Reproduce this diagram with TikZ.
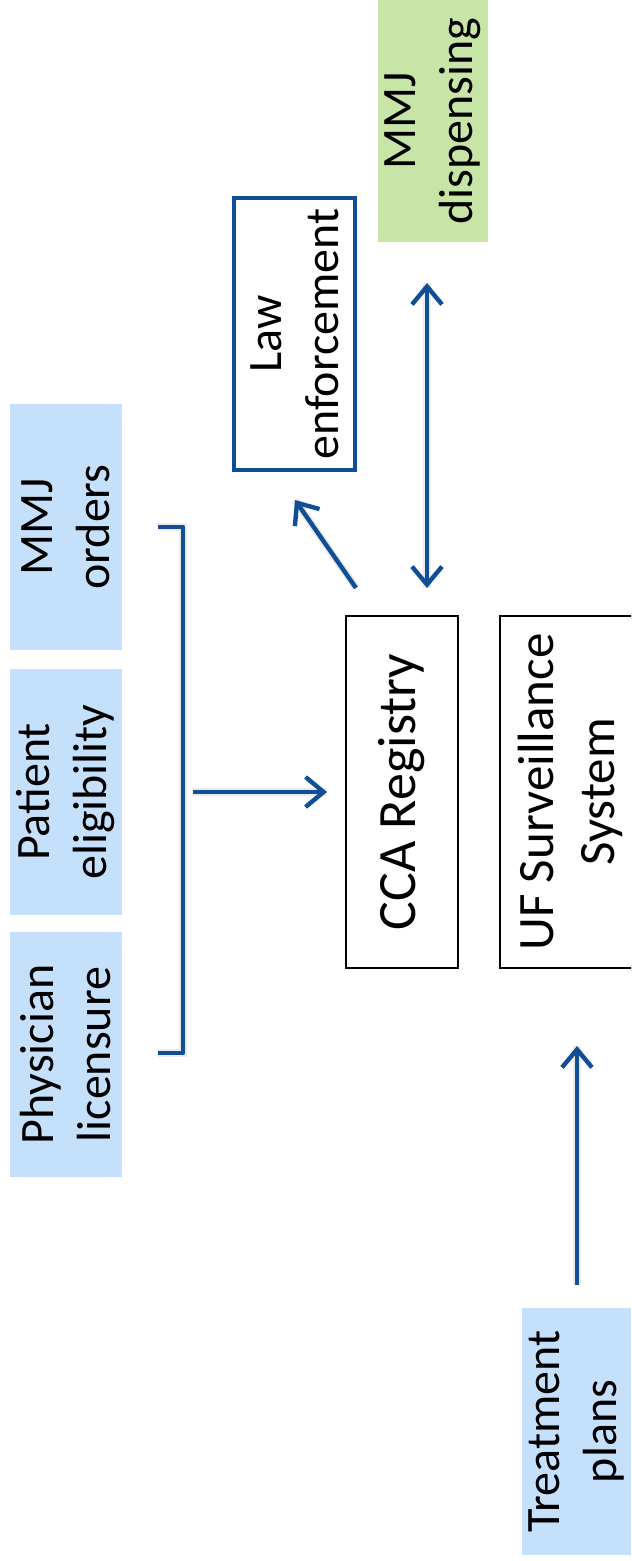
\documentclass[tikz,border=0pt]{standalone}
\usepackage{fontspec}
\setmainfont{Carlito}
\usetikzlibrary{arrows.meta}
\definecolor{boxblue}{RGB}{197,224,251}
\definecolor{boxgreen}{RGB}{199,229,166}
\definecolor{arrblue}{RGB}{16,78,150}
\begin{document}
\begin{tikzpicture}[x=0.5pt,y=-0.5pt,
  txt/.style={rotate=90, align=center, font=\fontsize{24}{28.5}\selectfont, inner sep=0pt, outer sep=0pt},
  bluebox/.style={txt, fill=boxblue, draw=none},
  greenbox/.style={txt, fill=boxgreen, draw=none},
  blackbox/.style={txt, draw=black, line width=0.9pt, fill=white},
  lawbox/.style={txt, draw=arrblue, line width=2.2pt, fill=white},
  conn/.style={draw=arrblue, line width=2.2pt},
  arr/.style={conn, -{Straight Barb[length=9pt,width=15pt,line width=2.2pt]}},
  darr/.style={conn, {Straight Barb[length=9pt,width=15pt,line width=2.2pt]}-{Straight Barb[length=9pt,width=15pt,line width=2.2pt]}},
  shad/.style={draw=black, opacity=0.08, line width=4pt}
]
\clip (0,0) rectangle (631,1561);
\fill[white] (0,0) rectangle (631,1561);

% boxes
\node[bluebox, minimum width=122.5pt, minimum height=56pt] (phys) at (66,1054.5) {Physician\\licensure};
\node[bluebox, minimum width=123pt, minimum height=56pt] (pat) at (66,792) {Patient\\eligibility};
\node[bluebox, minimum width=123pt, minimum height=56pt] (ord) at (66,527) {MMJ\\orders};
\node[bluebox, minimum width=123.5pt, minimum height=54.5pt] (treat) at (576.5,1431.5) {Treatment\\plans};
\node[greenbox, minimum width=121pt, minimum height=55pt] (disp) at (433,121) {MMJ\\dispensing};
\node[lawbox, minimum width=136pt, minimum height=60.5pt] (law) at (294.5,334) {Law\\enforcement};
\node[blackbox, minimum width=176pt, minimum height=56pt, font=\fontsize{27}{32}\selectfont] (cca) at (402,792) {CCA Registry};
\node[blackbox, minimum width=176pt, minimum height=70pt, font=\fontsize{25.5}{30.5}\selectfont] (uf) at (570,792) {UF Surveillance\\System};

% connector end points
\coordinate (brtop) at (158,527);
\coordinate (brtopc) at (183,527);
\coordinate (brbot) at (158,1053);
\coordinate (brbotc) at (183,1053);
\coordinate (brmid) at (193,792);
\coordinate (ccain) at (327,792);
\coordinate (ccaout) at (356,588);
\coordinate (lawin) at (295,500);
\coordinate (ccadisp) at (427,588);
\coordinate (dispin) at (427,283);
\coordinate (treatout) at (577,1285);
\coordinate (ufin) at (577,1046);

% shadows
\begin{scope}[shift={(4,4)}]
\draw[shad] (brtop) -- (brtopc) -- (brbotc) -- (brbot);
\draw[shad] (brmid) -- (ccain);
\draw[shad] (ccaout) -- (lawin);
\draw[shad] (ccadisp) -- (dispin);
\draw[shad] (treatout) -- (ufin);
\end{scope}

% connectors
\draw[conn, line join=round] (brtop) -- (brtopc) -- (brbotc) -- (brbot);
\draw[arr] (brmid) -- (ccain);
\draw[arr] (ccaout) -- (lawin);
\draw[darr] (ccadisp) -- (dispin);
\draw[arr] (treatout) -- (ufin);
\end{tikzpicture}
\end{document}
